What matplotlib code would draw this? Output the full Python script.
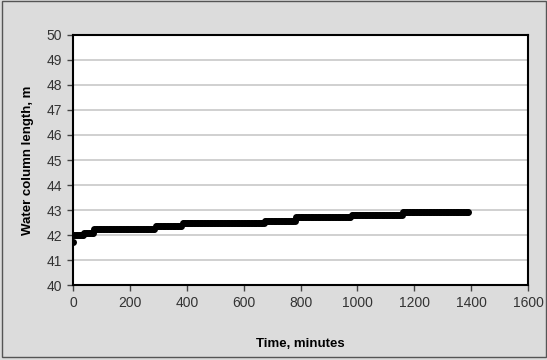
import numpy as np
import matplotlib.pyplot as plt
from matplotlib.patches import Rectangle

plt.rcParams['font.family'] = ['Liberation Sans', 'DejaVu Sans']

# step levels (start minute, end minute, water column length)
seg_start = [0, 5, 40, 75, 290, 385, 675, 785, 980, 1160]
seg_end = [0, 35, 70, 285, 380, 670, 780, 975, 1155, 1390]
seg_level = [41.73, 42.0, 42.1, 42.24, 42.35, 42.48, 42.58, 42.71, 42.82, 42.94]
sample_step = 5  # logging interval, minutes

x_ticks = [0, 200, 400, 600, 800, 1000, 1200, 1400, 1600]
y_ticks = [40, 41, 42, 43, 44, 45, 46, 47, 48, 49, 50]

times = []
levels = []
for a, b, v in zip(seg_start, seg_end, seg_level):
    t = np.arange(a, b + 1, sample_step)
    times.extend(t)
    levels.extend([v] * len(t))

fig = plt.figure(figsize=(5.47, 3.6), dpi=100, facecolor='#dcdcdc')
fig.patches.append(Rectangle((0.004, 0.008), 0.995, 0.988, transform=fig.transFigure,
                             fill=False, edgecolor='#555555', linewidth=1.0))
ax = fig.add_axes([0.1335, 0.2083, 0.832, 0.6945])
ax.set_facecolor('white')

ax.plot(times, levels, 'o', color='black', markersize=5, markeredgewidth=0)

ax.set_xlim(0, 1600)
ax.set_ylim(40, 50)
ax.set_xticks(x_ticks)
ax.set_yticks(y_ticks)
ax.yaxis.grid(True, color='#c8c8c8', linewidth=1.2)
ax.set_axisbelow(True)

for s in ax.spines.values():
    s.set_color('black')
    s.set_linewidth(1.5)
ax.tick_params(direction='out', length=4, width=1, color='#444444',
               labelsize=10, labelcolor='#333333', pad=4)

ax.set_xlabel('Time, minutes', fontsize=9.5, fontweight='bold', labelpad=20)
ax.set_ylabel('Water column length, m', fontsize=9.5, fontweight='bold', labelpad=9)

fig.savefig('out.png', dpi=100, facecolor=fig.get_facecolor())
